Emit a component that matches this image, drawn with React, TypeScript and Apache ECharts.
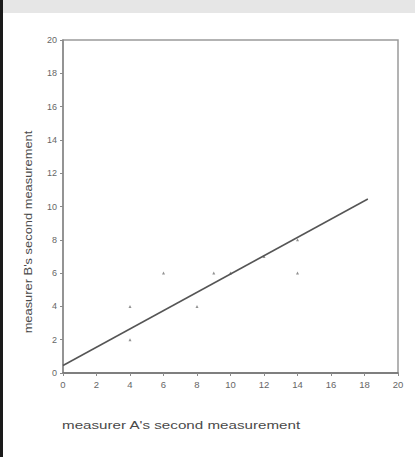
import React, { useEffect, useRef } from "react";
import * as echarts from "echarts";

const xValues = [4, 4, 6, 8, 9, 10, 12, 14, 14];
const yValues = [2, 4, 6, 4, 6, 6, 7, 8, 6];
const fitX = [0, 18.2];
const fitY = [0.45, 10.45];
const xTitle = "measurer A's second measurement";
const yTitle = "measurer B's second measurement";

export default function App() {
  const ref = useRef<HTMLDivElement>(null);
  useEffect(() => {
    document.body.style.margin = "0";
    const chart = echarts.init(ref.current!, null, { renderer: "svg" });
    chart.setOption({
      animation: false,
      backgroundColor: "#ffffff",
      grid: {
        left: 63,
        right: 17,
        top: 40,
        bottom: 84,
        show: true,
        borderColor: "#9a9a9a",
        borderWidth: 1.5,
      },
      xAxis: {
        type: "value",
        min: 0,
        max: 20,
        interval: 2,
        splitLine: { show: false },
        axisLine: { lineStyle: { color: "#6f6f6f", width: 1.5 } },
        axisTick: { length: 3, lineStyle: { color: "#8a8a8a" } },
        axisLabel: { color: "#666", fontSize: 9.5, margin: 6, fontFamily: "Liberation Sans" },
      },
      yAxis: {
        type: "value",
        min: 0,
        max: 20,
        interval: 2,
        splitLine: { show: false },
        axisLine: { lineStyle: { color: "#8a8a8a", width: 1.5 } },
        axisTick: { length: 3, lineStyle: { color: "#8a8a8a" } },
        axisLabel: { color: "#666", fontSize: 9, margin: 6, fontFamily: "Liberation Sans" },
      },
      graphic: [
        { type: "rect", shape: { x: 0, y: 0, width: 415, height: 13 }, style: { fill: "#e6e6e6" } },
        { type: "rect", shape: { x: 0, y: 0, width: 3, height: 457 }, style: { fill: "#1a1a1a" } },
        {
          type: "text",
          x: 62,
          y: 425,
          scaleX: 1.38,
          style: { text: xTitle, fill: "#4a4a4a", fontSize: 11, fontFamily: "Liberation Sans", textVerticalAlign: "middle" },
        },
        {
          type: "text",
          x: 28,
          y: 232,
          rotation: Math.PI / 2,
          scaleX: 1.17,
          style: { text: yTitle, fill: "#4a4a4a", fontSize: 11, fontFamily: "Liberation Sans", textAlign: "center", textVerticalAlign: "middle" },
        },
      ],
      series: [
        {
          type: "scatter",
          data: xValues.map((x, i) => [x, yValues[i]]),
          symbol: "triangle",
          symbolSize: 3,
          itemStyle: { color: "#777" },
        },
        {
          type: "line",
          data: fitX.map((x, i) => [x, fitY[i]]),
          symbol: "none",
          lineStyle: { color: "#555", width: 1.5 },
        },
      ],
    });
    return () => chart.dispose();
  }, []);
  return <div ref={ref} style={{ width: 415, height: 457 }} />;
}
